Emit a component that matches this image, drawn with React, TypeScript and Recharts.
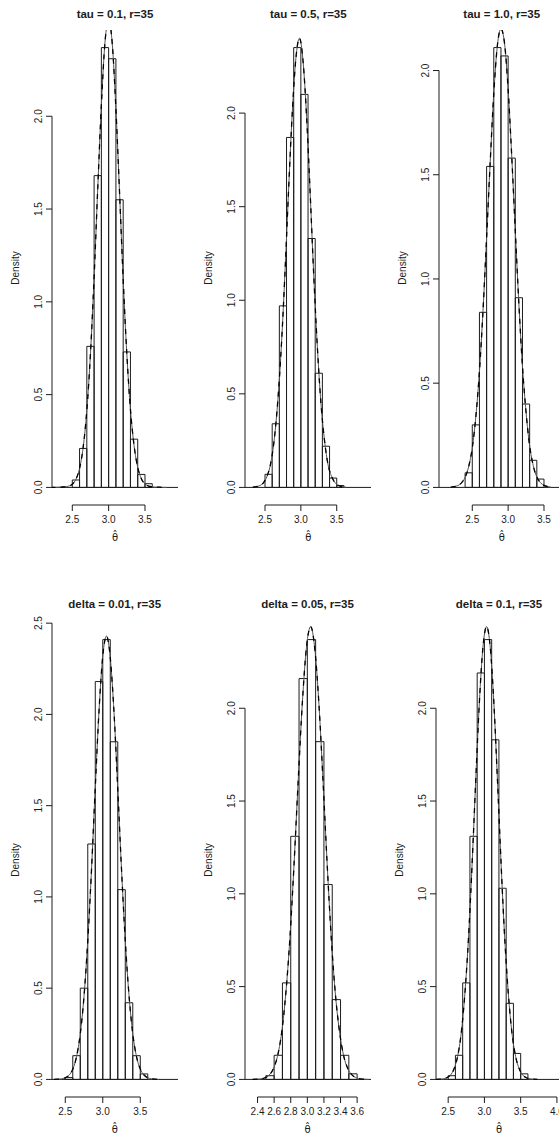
import React from "react"
import {
  ComposedChart,
  Line,
  XAxis,
  YAxis,
  ReferenceArea,
  ReferenceLine,
} from "recharts"

// histogram breaks (bin width 0.1)
const breaksFrom25 = [2.5, 2.6, 2.7, 2.8, 2.9, 3.0, 3.1, 3.2, 3.3, 3.4, 3.5, 3.6]
const breaksFrom24 = [2.4, 2.5, 2.6, 2.7, 2.8, 2.9, 3.0, 3.1, 3.2, 3.3, 3.4, 3.5]

// bar densities
const tau01Density = [0.04, 0.21, 0.76, 1.68, 2.37, 2.31, 1.55, 0.73, 0.26, 0.07, 0.02]
const tau05Density = [0.07, 0.34, 0.97, 1.87, 2.35, 2.10, 1.33, 0.61, 0.22, 0.05, 0.01]
const tau10Density = [0.07, 0.30, 0.84, 1.54, 2.11, 2.07, 1.58, 0.91, 0.40, 0.13, 0.04]
const delta001Density = [0.01, 0.13, 0.50, 1.29, 2.18, 2.41, 1.85, 1.04, 0.42, 0.13, 0.03]
const delta005Density = [0.02, 0.13, 0.52, 1.31, 2.16, 2.37, 1.82, 1.05, 0.43, 0.13, 0.03]
const delta01Density = [0.02, 0.13, 0.52, 1.31, 2.19, 2.37, 1.83, 1.03, 0.41, 0.14, 0.03]

// density curves
const tau01CurveX = [2.2, 2.25, 2.3, 2.35, 2.4, 2.45, 2.5, 2.55, 2.6, 2.65, 2.7, 2.75, 2.8, 2.85, 2.9, 2.95, 3.0, 3.05, 3.1, 3.15, 3.2, 3.25, 3.3, 3.35, 3.4, 3.45, 3.5, 3.55, 3.6, 3.65, 3.7, 3.75, 3.8]
const tau01CurveY = [0, 0, 0.001, 0.002, 0.003, 0.007, 0.017, 0.044, 0.102, 0.217, 0.415, 0.72, 1.13, 1.61, 2.06, 2.4, 2.52, 2.39, 2.04, 1.59, 1.12, 0.72, 0.42, 0.225, 0.108, 0.047, 0.019, 0.007, 0.003, 0.001, 0.001, 0, 0]

const tau05CurveX = [2.33, 2.38, 2.43, 2.48, 2.53, 2.58, 2.63, 2.68, 2.73, 2.78, 2.83, 2.88, 2.93, 2.98, 3.03, 3.08, 3.13, 3.18, 3.23, 3.28, 3.33, 3.38, 3.43, 3.48, 3.53, 3.58, 3.63]
const tau05CurveY = [0.001, 0.004, 0.01, 0.026, 0.061, 0.13, 0.26, 0.47, 0.77, 1.16, 1.6, 2.0, 2.29, 2.4, 2.28, 1.98, 1.57, 1.13, 0.75, 0.45, 0.25, 0.12, 0.057, 0.024, 0.009, 0.003, 0.001]

const tau10CurveX = [2.2, 2.25, 2.3, 2.35, 2.4, 2.45, 2.5, 2.55, 2.6, 2.65, 2.7, 2.75, 2.8, 2.85, 2.9, 2.95, 3.0, 3.05, 3.1, 3.15, 3.2, 3.25, 3.3, 3.35, 3.4, 3.45, 3.5, 3.55, 3.6]
const tau10CurveY = [0.001, 0.004, 0.009, 0.022, 0.048, 0.1, 0.19, 0.34, 0.557, 0.85, 1.2, 1.56, 1.89, 2.12, 2.2, 2.13, 1.91, 1.59, 1.23, 0.88, 0.58, 0.36, 0.2, 0.105, 0.05, 0.023, 0.01, 0.004, 0.001]

const delta001CurveX = [2.35, 2.4, 2.45, 2.5, 2.55, 2.6, 2.65, 2.7, 2.75, 2.8, 2.85, 2.9, 2.95, 3.0, 3.05, 3.1, 3.15, 3.2, 3.25, 3.3, 3.35, 3.4, 3.45, 3.5, 3.55, 3.6, 3.65, 3.7, 3.75]
const delta001CurveY = [0, 0.001, 0.003, 0.009, 0.023, 0.056, 0.124, 0.25, 0.456, 0.76, 1.15, 1.6, 2.02, 2.32, 2.43, 2.31, 2.01, 1.59, 1.15, 0.76, 0.46, 0.25, 0.125, 0.057, 0.024, 0.009, 0.003, 0.001, 0]

const delta005CurveX = [2.34, 2.39, 2.44, 2.49, 2.54, 2.59, 2.64, 2.69, 2.74, 2.79, 2.84, 2.89, 2.94, 2.99, 3.04, 3.09, 3.14, 3.19, 3.24, 3.29, 3.34, 3.39, 3.44, 3.49, 3.54, 3.59, 3.64, 3.69, 3.74]
const delta005CurveY = [0, 0.001, 0.003, 0.009, 0.023, 0.057, 0.124, 0.25, 0.46, 0.76, 1.16, 1.61, 2.03, 2.33, 2.44, 2.32, 2.02, 1.6, 1.15, 0.75, 0.45, 0.25, 0.123, 0.056, 0.023, 0.009, 0.003, 0.001, 0]

const delta01CurveX = [2.33, 2.38, 2.43, 2.48, 2.53, 2.58, 2.63, 2.68, 2.73, 2.78, 2.83, 2.88, 2.93, 2.98, 3.03, 3.08, 3.13, 3.18, 3.23, 3.28, 3.33, 3.38, 3.43, 3.48, 3.53, 3.58, 3.63, 3.68, 3.73]
const delta01CurveY = [0, 0.001, 0.003, 0.009, 0.023, 0.056, 0.124, 0.25, 0.46, 0.76, 1.16, 1.61, 2.03, 2.33, 2.44, 2.33, 2.03, 1.61, 1.16, 0.76, 0.46, 0.25, 0.124, 0.057, 0.023, 0.009, 0.003, 0.001, 0]

// axis ticks
const xTicksHalf = [2.5, 3.0, 3.5]
const xTicksHalfTo4 = [2.5, 3.0, 3.5, 4.0]
const xTicksFifth = [2.4, 2.6, 2.8, 3.0, 3.2, 3.4, 3.6]
const yTicksTo2 = [0, 0.5, 1.0, 1.5, 2.0]
const yTicksTo25 = [0, 0.5, 1.0, 1.5, 2.0, 2.5]

const FONT = '"Liberation Sans", Arial, Helvetica, sans-serif'
const INK = "#1c1c1c"

const CHART_W = 193
const CHART_H = 590
const PLOT_W = 126
const PLOT_TOP = 30
const PLOT_BOTTOM = 505

const panels = [
  { title: "tau = 0.1, r=35", breaks: breaksFrom25, density: tau01Density, cx: tau01CurveX, cy: tau01CurveY, xTicks: xTicksHalf, yTicks: yTicksTo2, xDomain: [2.221, 3.954], plotLeft: 52, top: 0 },
  { title: "tau = 0.5, r=35", breaks: breaksFrom25, density: tau05Density, cx: tau05CurveX, cy: tau05CurveY, xTicks: xTicksHalf, yTicks: yTicksTo2, xDomain: [2.221, 3.978], plotLeft: 245.3, top: 0 },
  { title: "tau = 1.0, r=35", breaks: breaksFrom24, density: tau10Density, cx: tau10CurveX, cy: tau10CurveY, xTicks: xTicksHalf, yTicks: yTicksTo2, xDomain: [2.036, 3.793], plotLeft: 438.7, top: 0 },
  { title: "delta = 0.01, r=35", breaks: breaksFrom25, density: delta001Density, cx: delta001CurveX, cy: delta001CurveY, xTicks: xTicksHalf, yTicks: yTicksTo25, xDomain: [2.323, 4.003], plotLeft: 51.7, top: 592 },
  { title: "delta = 0.05, r=35", breaks: breaksFrom25, density: delta005Density, cx: delta005CurveX, cy: delta005CurveY, xTicks: xTicksFifth, yTicks: yTicksTo2, xDomain: [2.249, 3.767], plotLeft: 244.5, top: 592 },
  { title: "delta = 0.1, r=35", breaks: breaksFrom25, density: delta01Density, cx: delta01CurveX, cy: delta01CurveY, xTicks: xTicksHalfTo4, yTicks: yTicksTo2, xDomain: [2.332, 4.07], plotLeft: 436, top: 592 },
]

function YTick(props: any) {
  const { x, y, payload } = props
  return (
    <text
      x={x}
      y={y}
      transform={`rotate(-90 ${x} ${y})`}
      textAnchor="middle"
      fontSize={10}
      fontFamily={FONT}
      fill={INK}
    >
      {Number(payload.value).toFixed(1)}
    </text>
  )
}

function HistPanel({ p }: { p: (typeof panels)[number] }) {
  const curve = p.cx.map((x, i) => ({ x, y: p.cy[i] }))
  const maxD = Math.max(...p.density)
  const yDomain = [-0.04 * maxD, 1.04 * maxD]
  const centerX = p.plotLeft + PLOT_W / 2
  const chartLeft = p.plotLeft - 52

  return (
    <>
      <div
        style={{
          position: "absolute",
          left: chartLeft,
          top: p.top,
          width: CHART_W,
          height: CHART_H,
        }}
      >
        <ComposedChart
          width={CHART_W}
          height={CHART_H}
          data={curve}
          margin={{ top: PLOT_TOP, right: 15, bottom: 55, left: 12 }}
        >
          <XAxis
            dataKey="x"
            type="number"
            domain={p.xDomain}
            allowDataOverflow
            ticks={p.xTicks}
            interval={0}
            height={30}
            axisLine={false}
            tickLine={{ stroke: INK }}
            tickSize={6}
            tickMargin={5}
            tick={{ fontSize: 10, fontFamily: FONT, fill: INK }}
            tickFormatter={(v) => Number(v).toFixed(1)}
          />
          <YAxis
            type="number"
            domain={yDomain}
            allowDataOverflow
            ticks={p.yTicks}
            interval={0}
            width={40}
            axisLine={false}
            tickLine={{ stroke: INK }}
            tickSize={6}
            tickMargin={4}
            tick={(props) => <YTick {...props} />}
          />
          {/* axis lines only span first to last tick, R style */}
          <ReferenceLine
            segment={[
              { x: p.xTicks[0], y: yDomain[0] },
              { x: p.xTicks[p.xTicks.length - 1], y: yDomain[0] },
            ]}
            stroke={INK}
            ifOverflow="visible"
          />
          <ReferenceLine
            segment={[
              { x: p.xDomain[0], y: 0 },
              { x: p.xDomain[0], y: p.yTicks[p.yTicks.length - 1] },
            ]}
            stroke={INK}
            ifOverflow="visible"
          />
          <ReferenceLine y={0} stroke={INK} />
          {p.density.map((d, i) => (
            <ReferenceArea
              key={i}
              x1={p.breaks[i]}
              x2={p.breaks[i + 1]}
              y1={0}
              y2={d}
              fill="none"
              fillOpacity={0}
              stroke={INK}
              strokeWidth={1}
            />
          ))}
          <Line
            dataKey="y"
            type="monotone"
            dot={false}
            stroke="#555"
            strokeWidth={1}
            isAnimationActive={false}
          />
          <Line
            dataKey="y"
            type="monotone"
            dot={false}
            stroke="#000"
            strokeWidth={1.3}
            strokeDasharray="5 5"
            isAnimationActive={false}
          />
        </ComposedChart>
      </div>
      <div
        style={{
          position: "absolute",
          left: centerX - 100,
          width: 200,
          top: p.top + (p.top === 0 ? 13.5 : 12) - 7,
          lineHeight: "14px",
          textAlign: "center",
          fontFamily: FONT,
          fontWeight: 700,
          fontSize: 11.5,
          color: INK,
          whiteSpace: "nowrap",
        }}
      >
        {p.title}
      </div>
      <div
        style={{
          position: "absolute",
          left: p.plotLeft - 36 - 40,
          width: 80,
          top: p.top + (PLOT_TOP + PLOT_BOTTOM) / 2 - 7,
          lineHeight: "14px",
          textAlign: "center",
          fontFamily: FONT,
          fontSize: 10,
          color: INK,
          transform: "rotate(-90deg)",
        }}
      >
        Density
      </div>
      <div
        style={{
          position: "absolute",
          left: centerX - 20,
          width: 40,
          top: p.top + PLOT_BOTTOM + 33 - 9,
          lineHeight: "18px",
          textAlign: "center",
          fontFamily: '"DejaVu Sans", sans-serif',
          fontSize: 10,
          color: INK,
        }}
      >
        θ̂
      </div>
    </>
  )
}

export default function App() {
  return (
    <div
      style={{
        position: "absolute",
        left: 0,
        top: 0,
        width: 559,
        height: 1141,
        overflow: "hidden",
        background: "#fff",
      }}
    >
      {panels.map((p) => (
        <HistPanel key={p.title} p={p} />
      ))}
    </div>
  )
}
